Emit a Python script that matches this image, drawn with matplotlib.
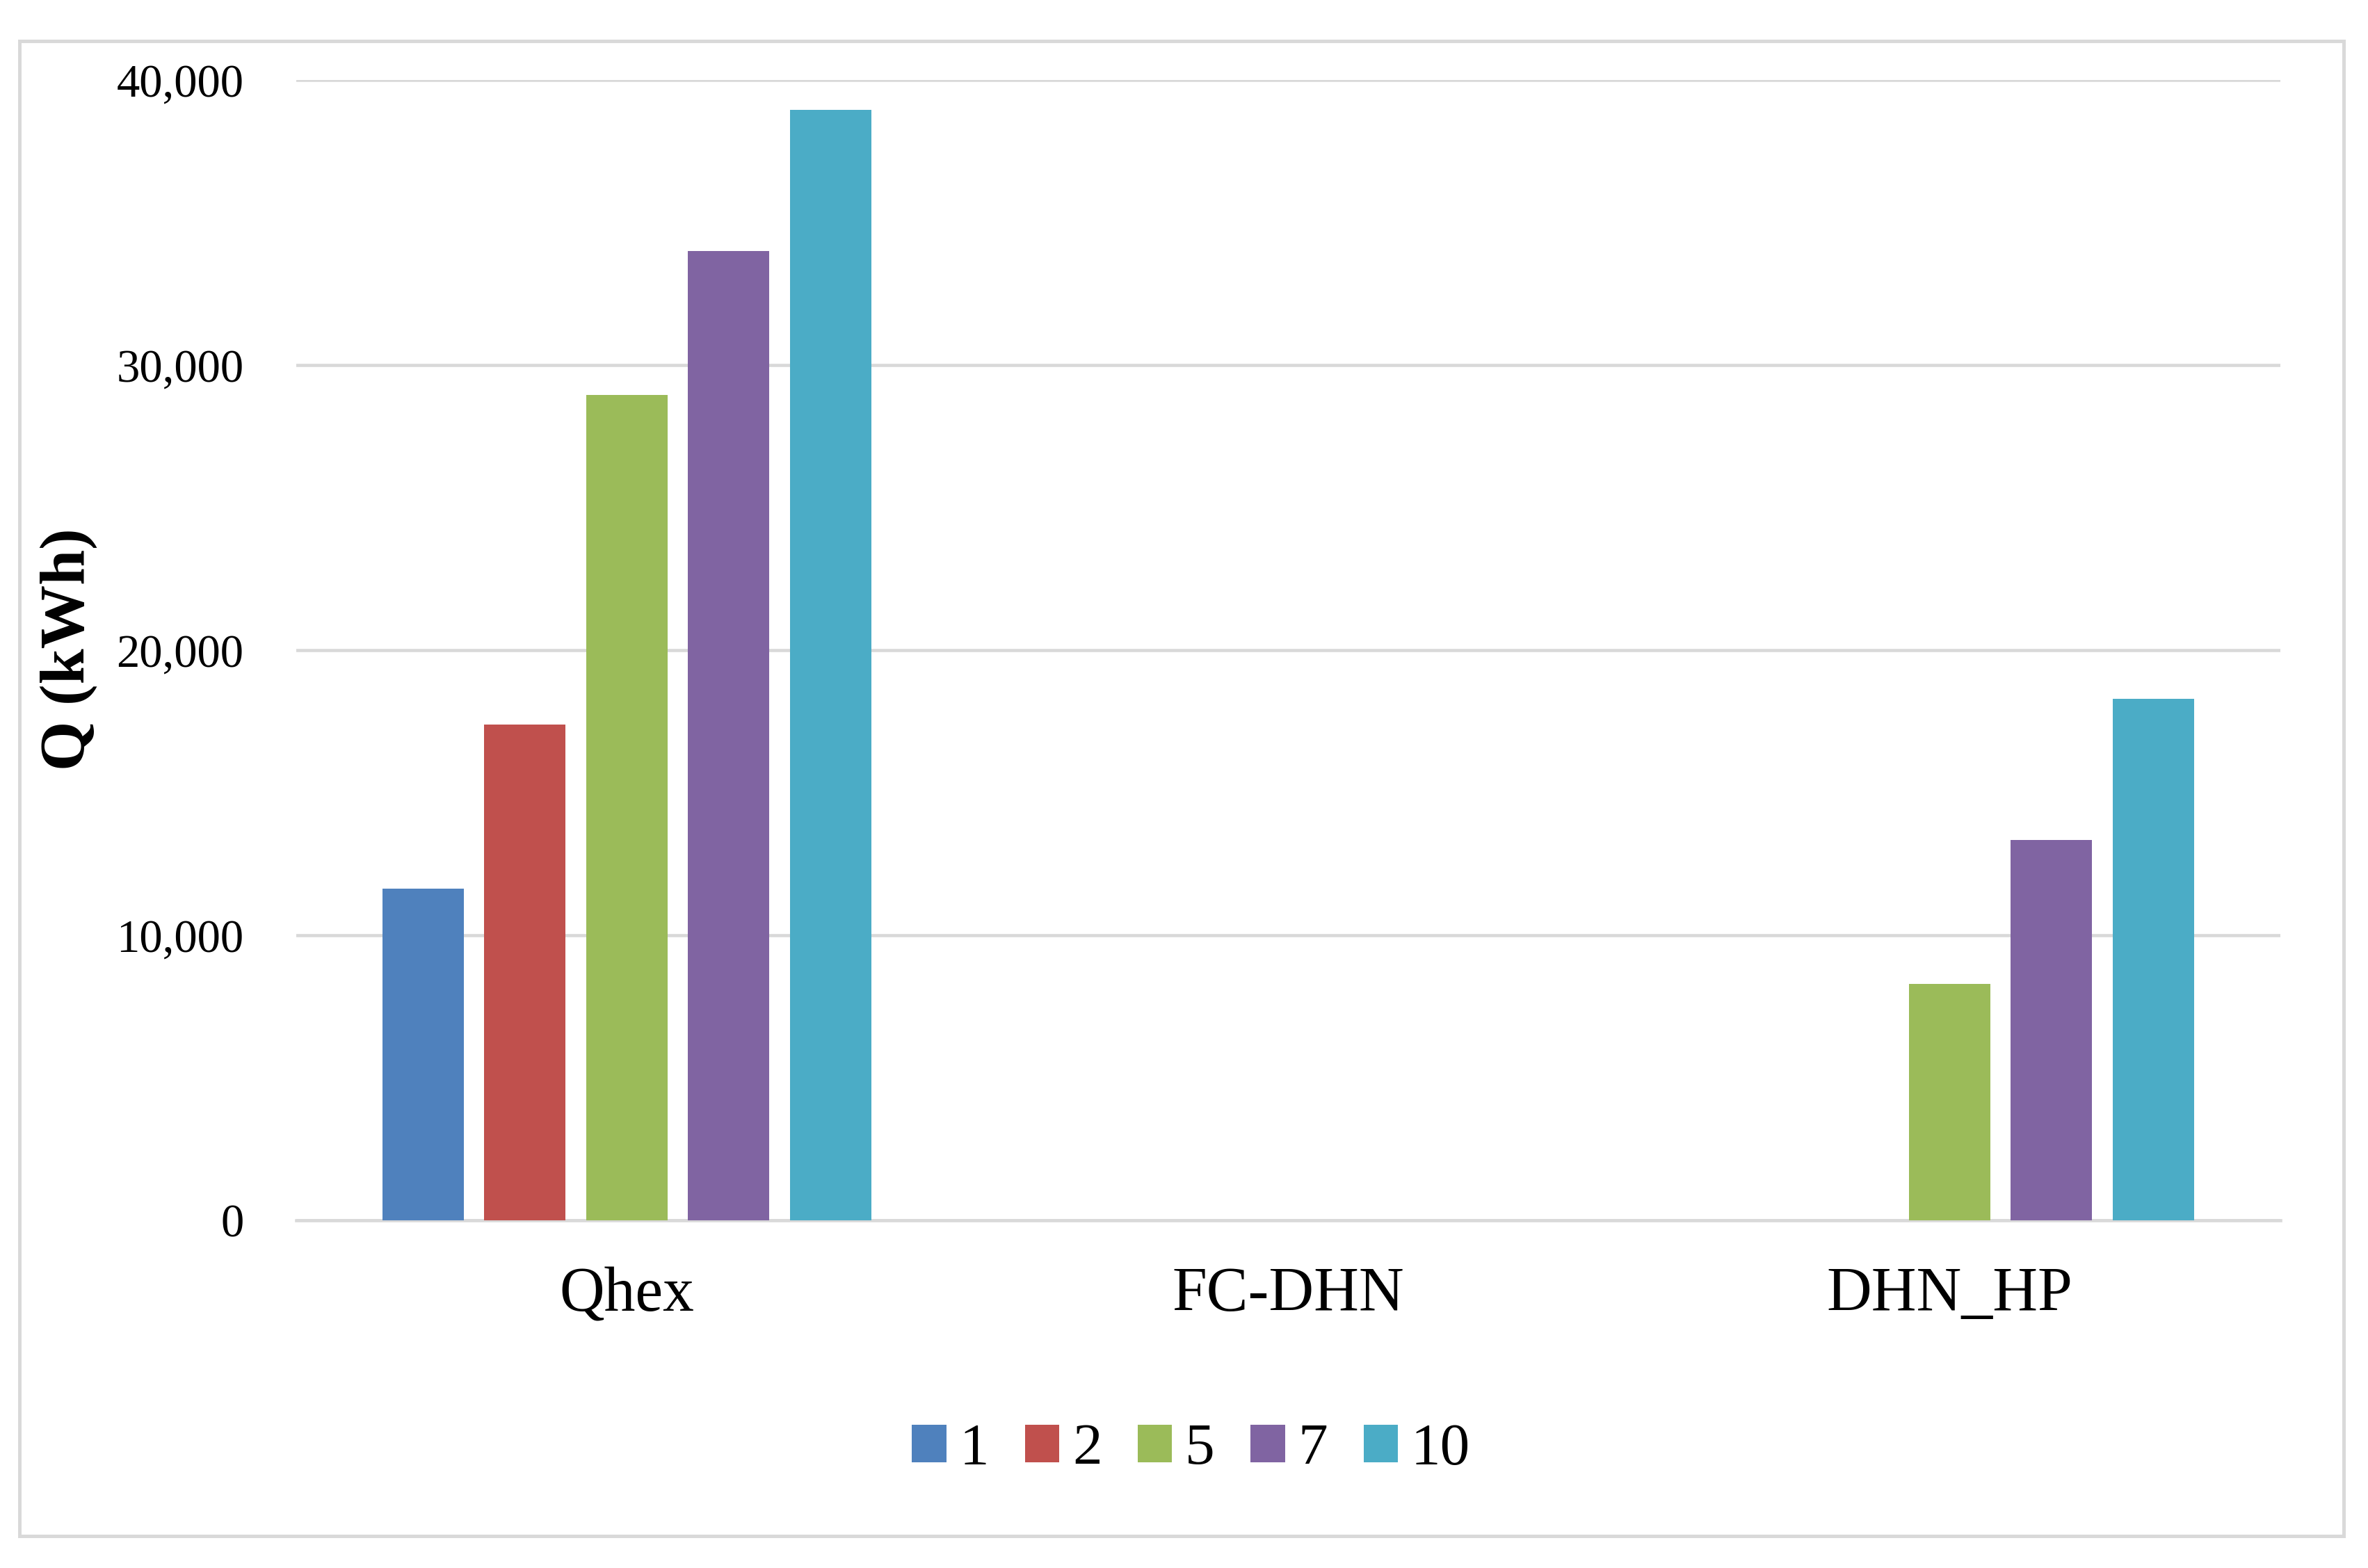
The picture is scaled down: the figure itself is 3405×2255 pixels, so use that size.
import matplotlib
matplotlib.use("Agg")
import matplotlib.pyplot as plt
import numpy as np
from matplotlib.ticker import FuncFormatter
from matplotlib.patches import Rectangle

categories = ["Qhex", "FC-DHN", "DHN_HP"]
series_names = ["1", "2", "5", "7", "10"]
s1 = [11650, 0, 0]
s2 = [17400, 0, 0]
s5 = [28950, 0, 8300]
s7 = [34000, 0, 13340]
s10 = [38950, 0, 18300]
series_values = [s1, s2, s5, s7, s10]
colors = ["#4F81BD", "#C0504D", "#9BBB59", "#8064A2", "#4BACC6"]
yticks = [0, 10000, 20000, 30000, 40000]

plt.rcParams['font.family'] = ['Liberation Serif', 'DejaVu Serif']

fig = plt.figure(figsize=(3405/300, 2255/300), dpi=300)
ax = fig.add_axes([0.125, 0.2216, 0.838, 0.7274])

x = np.arange(len(categories))
step = 0.154
width = 0.123
n = len(series_values)
for i, (vals, name, c) in enumerate(zip(series_values, series_names, colors)):
    offs = (i - (n - 1) / 2) * step
    ax.bar(x + offs, vals, width=width, color=c, label=name, zorder=3)

ax.set_xlim(-0.5, len(categories) - 0.5)
ax.set_ylim(0, 40000)
ax.set_yticks(yticks)
ax.yaxis.set_major_formatter(FuncFormatter(lambda v, p: f"{int(v):,}"))
ax.set_xticks(x)
ax.set_xticklabels(categories, fontsize=21.5)
ax.tick_params(axis='y', length=0, pad=18, labelsize=16)
ax.tick_params(axis='x', length=0, pad=16)
ax.grid(axis='y', color='#d9d9d9', linewidth=1.1, zorder=0)
ax.set_axisbelow(True)
for sp in ['top', 'right', 'left']:
    ax.spines[sp].set_visible(False)
ax.spines['bottom'].set_color('#d9d9d9')
ax.spines['bottom'].set_linewidth(1.1)
ax.spines['bottom'].set_zorder(0)

fig.text(0.029, 0.5858, "Q (kWh)", rotation=90, fontsize=22, fontweight='bold',
         ha='center', va='center')

leg = fig.legend(loc='center', bbox_to_anchor=(0.503, 0.075), ncol=5, frameon=False,
                 fontsize=20.5, handlelength=0.58, handleheight=0.6, handletextpad=0.22,
                 columnspacing=0.6)

fig.patches.append(Rectangle((0.0083, 0.0202), 0.9815, 0.9538, transform=fig.transFigure,
                             fill=False, edgecolor='#d9d9d9', linewidth=1.2))

fig.savefig("out.png", dpi=300, facecolor='white')
